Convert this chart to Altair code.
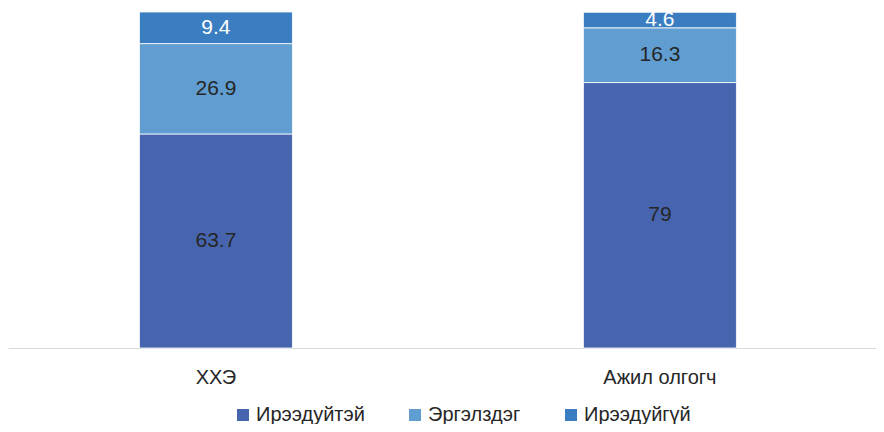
import altair as alt
import pandas as pd

categories = ["ХХЭ", "Ажил олгогч"]
series = ["Ирээдуйтэй", "Эргэлздэг", "Ирээдуйгүй"]
values_hhe = [63.7, 26.9, 9.4]
values_employer = [79, 16.3, 4.6]
colors = ["#4765AE", "#609DD0", "#3A7DC1"]

rows = []
for cat, vals in zip(categories, [values_hhe, values_employer]):
    for i, (s, v) in enumerate(zip(series, vals)):
        rows.append({"cat": cat, "series": s, "value": v, "order": i})
df = pd.DataFrame(rows)

FONT = "Liberation Sans"

base = alt.Chart(df).transform_stack(
    stack="value", groupby=["cat"], as_=["y0", "y1"],
    sort=[alt.SortField("order", order="ascending")]
).transform_calculate(mid="(datum.y0 + datum.y1) / 2")

xenc = alt.X("cat:N", sort=categories, title=None,
             scale=alt.Scale(paddingInner=0.6554, paddingOuter=0.3052, align=0.485),
             axis=alt.Axis(labelAngle=0, labelFontSize=20, labelFont=FONT,
                           labelColor="#262626", ticks=False, labelPadding=19,
                           domainColor="#D9D9D9", domainWidth=1, grid=False))

bars = base.mark_bar(stroke="white", strokeWidth=0.8).encode(
    x=xenc,
    y=alt.Y("y0:Q", scale=alt.Scale(domain=[0, 100], nice=False), axis=None),
    y2="y1:Q",
    color=alt.Color("series:N", sort=series,
                    scale=alt.Scale(domain=series, range=colors),
                    legend=alt.Legend(title=None, orient="none", direction="horizontal",
                                      legendX=225, legendY=393,
                                      labelFontSize=20, labelFont=FONT, labelColor="#262626",
                                      symbolType="square", symbolSize=144,
                                      symbolStrokeWidth=0, columnPadding=40,
                                      labelOffset=3, padding=0)),
    order=alt.Order("order:Q"),
)

labels = base.mark_text(fontSize=21, font=FONT, baseline="middle").encode(
    x=alt.X("cat:N", sort=categories),
    y=alt.Y("mid:Q"),
    text=alt.Text("value:Q"),
    color=alt.condition("datum.series == 'Ирээдуйгүй'", alt.value("white"), alt.value("#262626")),
)

chart = alt.layer(bars, labels).properties(
    width=868, height=336,
    autosize=alt.AutoSizeParams(type="none"),
    padding={"left": 0, "right": 0, "top": 4, "bottom": 76},
).configure(background="white").configure_view(stroke=None, strokeWidth=0)

chart.save("out.html", embed_options={"renderer": "svg", "actions": False})
